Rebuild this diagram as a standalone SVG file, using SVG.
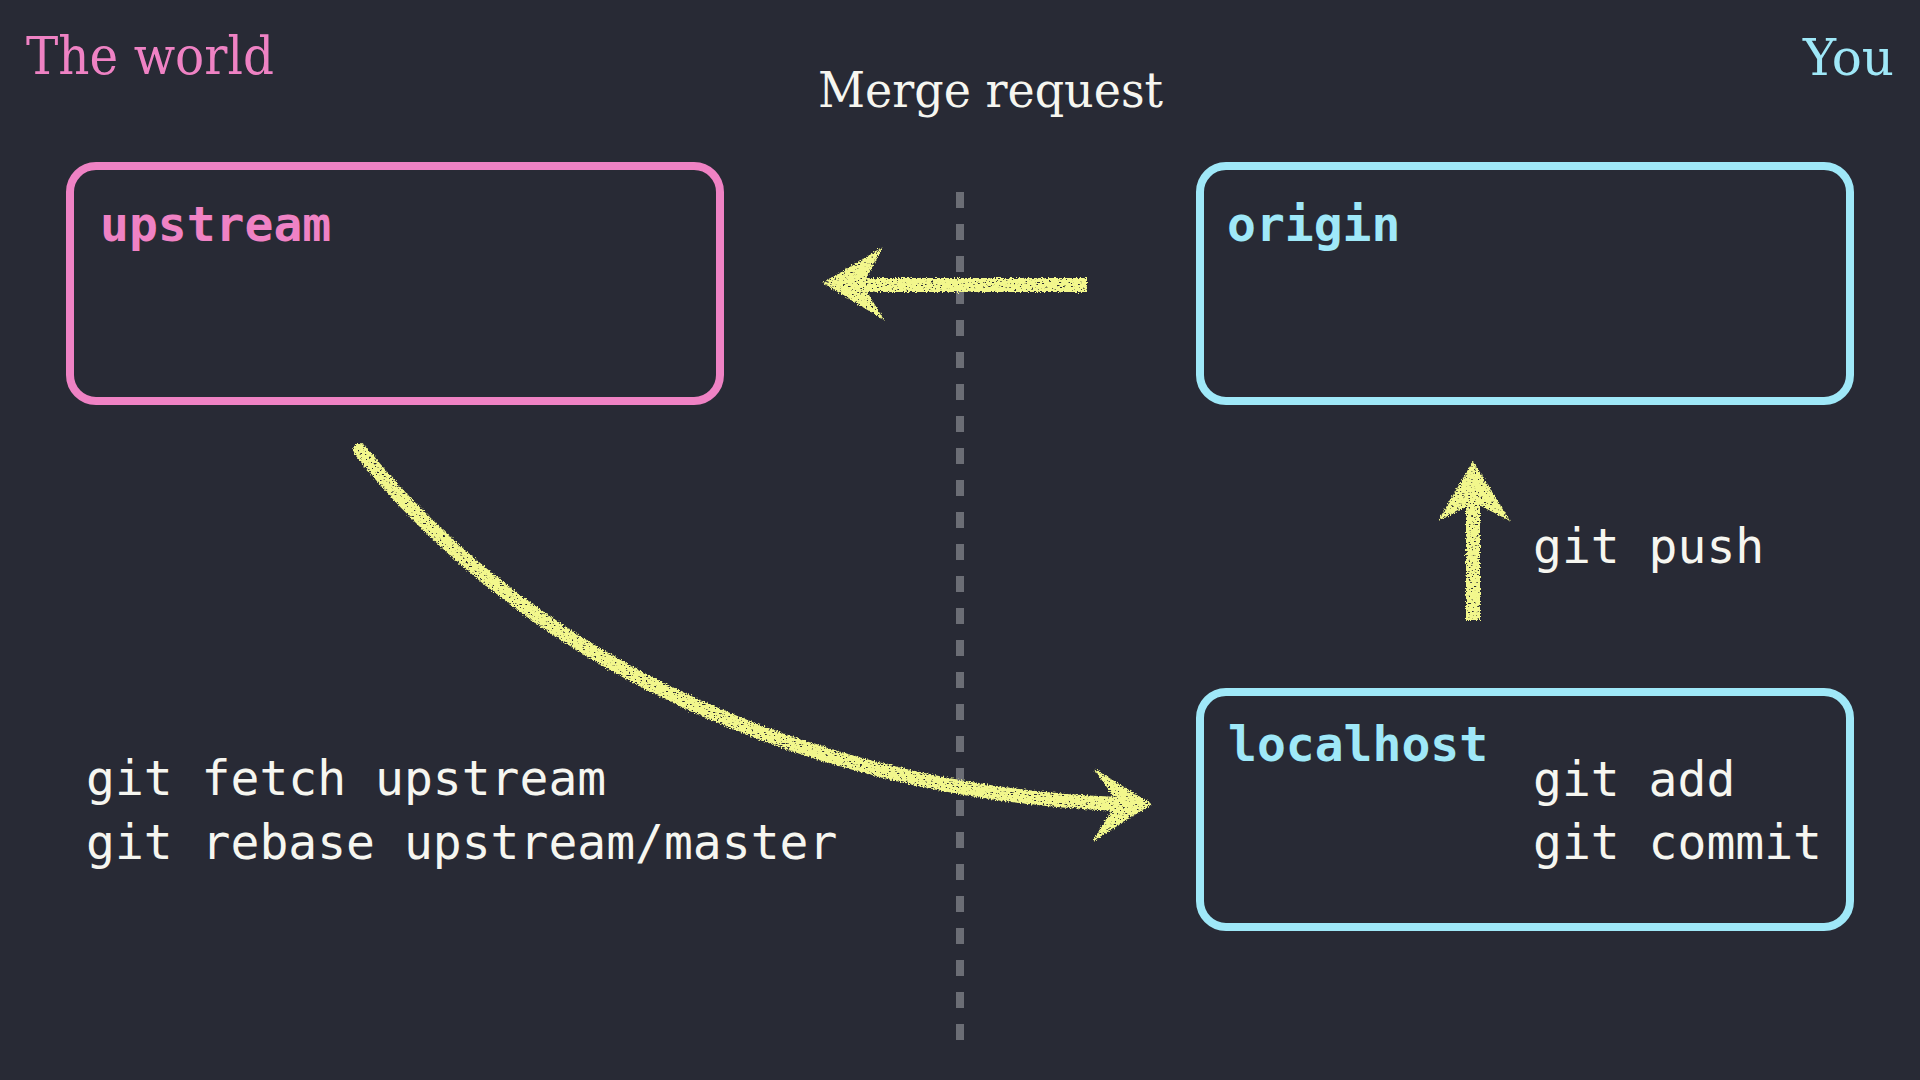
<svg xmlns="http://www.w3.org/2000/svg" width="1920" height="1080" viewBox="0 0 1920 1080">
  <defs>
    <style>
      .bg { fill: #282a35; }
      .box { fill: none; stroke-width: 8; }
      .pink { fill: #ef82c4; }
      .cyan { fill: #9fe8f8; }
      .pinkS { stroke: #ef82c4; }
      .cyanS { stroke: #9fe8f8; }
      .title { font-family: "DejaVu Serif", "Liberation Serif", serif; }
      .lbl { font-family: "DejaVu Sans Mono", "Liberation Mono", monospace; font-weight: bold; font-size: 48px; }
      .cmd { font-family: "DejaVu Sans Mono", "Liberation Mono", monospace; font-size: 48px; fill: #f6f6f0; }
      .chalk { stroke: #f2f78c; fill: none; stroke-width: 14; }
      .head { fill: #f2f78c; }
      .divider { stroke: #6b6d75; stroke-width: 8; stroke-dasharray: 16 16; }
    </style>
    <filter id="chalk" filterUnits="userSpaceOnUse" x="0" y="0" width="1920" height="1080" color-interpolation-filters="sRGB">
      <feTurbulence type="fractalNoise" baseFrequency="0.7" numOctaves="2" seed="7" result="n"/>
      <feDisplacementMap in="SourceGraphic" in2="n" scale="5" xChannelSelector="R" yChannelSelector="G" result="d"/>
      <feTurbulence type="fractalNoise" baseFrequency="0.35 0.9" numOctaves="2" seed="2" result="n2"/>
      <feColorMatrix in="n2" type="matrix" values="0 0 0 0 0  0 0 0 0 0  0 0 0 0 0  10 0 0 0 -2.6" result="m"/>
      <feComposite in="d" in2="m" operator="in"/>
    </filter>
  </defs>

  <rect class="bg" x="0" y="0" width="1920" height="1080"/>

  <g id="headings">
    <text class="title pink" x="26" y="74" font-size="53" textLength="248" lengthAdjust="spacingAndGlyphs">The world</text>
    <text class="title" x="818" y="107" font-size="48" fill="#f6f6f0" textLength="345" lengthAdjust="spacingAndGlyphs">Merge request</text>
    <text class="title cyan" x="1803" y="75" font-size="51" textLength="91" lengthAdjust="spacingAndGlyphs">You</text>
  </g>

  <line id="divider" class="divider" x1="960" y1="192" x2="960" y2="1040"/>

  <g id="upstream">
    <rect class="box pinkS" x="70" y="166" width="650" height="235" rx="26" ry="26"/>
    <text class="lbl pink" x="100" y="241">upstream</text>
  </g>

  <g id="origin">
    <rect class="box cyanS" x="1200" y="166" width="650" height="235" rx="26" ry="26"/>
    <text class="lbl cyan" x="1227" y="241">origin</text>
  </g>

  <g id="localhost">
    <rect class="box cyanS" x="1200" y="692" width="650" height="235" rx="26" ry="26"/>
    <text class="lbl cyan" x="1228" y="761">localhost</text>
    <text class="cmd" x="1533" y="796">git add</text>
    <text class="cmd" x="1533" y="859">git commit</text>
  </g>

  <g id="connectors" filter="url(#chalk)">
    <g id="merge-request-arrow">
      <line class="chalk" x1="862" y1="285" x2="1087" y2="285" stroke-width="13"/>
      <polygon class="head" points="823,283 883,247 866,279 866,290 884,320"/>
    </g>
    <g id="fetch-arrow">
      <path class="chalk" d="M360,450 C546,684 850,795 1120,804" stroke-width="13" stroke-linecap="round"/>
      <polygon class="head" points="1152,804 1093,768 1114,797 1110,813 1092,842"/>
    </g>
    <g id="push-arrow">
      <line class="chalk" x1="1473" y1="505" x2="1473" y2="620" stroke-width="14"/>
      <polygon class="head" points="1473,461 1510,521 1481,506 1466,507 1438,521"/>
    </g>
  </g>

  <g id="labels">
    <text class="cmd" x="1533" y="563">git push</text>
    <text class="cmd" x="86" y="795">git fetch upstream</text>
    <text class="cmd" x="86" y="859">git rebase upstream/master</text>
  </g>
</svg>
